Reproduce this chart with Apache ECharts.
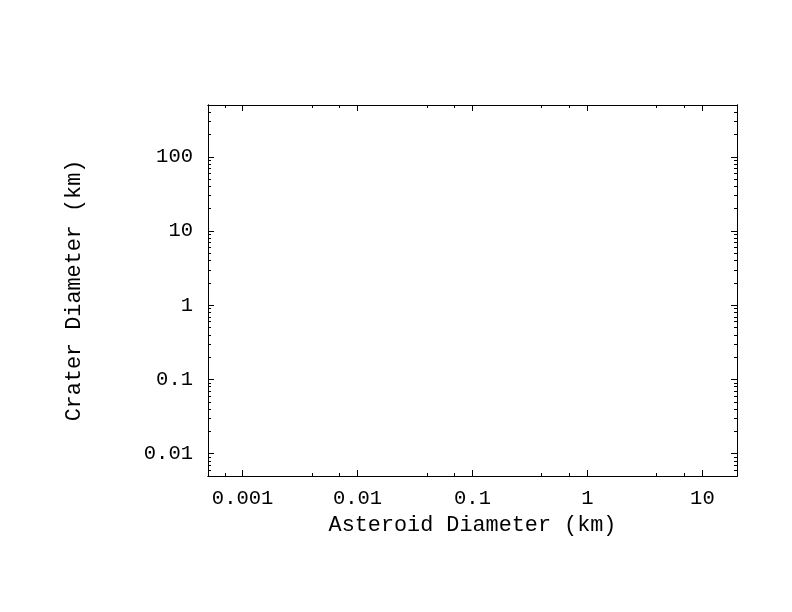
<!DOCTYPE html>
<html>
<head>
<meta charset="utf-8">
<script src="https://cdn.jsdelivr.net/npm/echarts@6/dist/echarts.min.js"></script>
<style>
html,body{margin:0;padding:0;background:#fff;}
#chart{width:792px;height:612px;}
</style>
</head>
<body>
<div id="chart"></div>
<script>
// Axis ranges (real units, km)
const xRange = [0.0005, 20];
const yRange = [0.005, 500];
// Major ticks with labels
const xMajor = [0.001, 0.01, 0.1, 1, 10];
const xLabels = ['0.001', '0.01', '0.1', '1', '10'];
const yMajor = [0.01, 0.1, 1, 10, 100];
const yLabels = ['0.01', '0.1', '1', '10', '100'];
// Minor ticks
const xMinor = [0.0007, 0.004, 0.007, 0.04, 0.07, 0.4, 0.7, 4, 7];
const yMinor = [0.006, 0.007, 0.008, 0.009,
  0.02, 0.03, 0.04, 0.05, 0.06, 0.07, 0.08, 0.09,
  0.2, 0.3, 0.4, 0.5, 0.6, 0.7, 0.8, 0.9,
  2, 3, 4, 5, 6, 7, 8, 9,
  20, 30, 40, 50, 60, 70, 80, 90,
  200, 300, 400];
const xTitle = 'Asteroid Diameter (km)';
const yTitle = 'Crater Diameter (km)';

const lg = v => Math.log10(v);
const FONT = 'Liberation Mono';
const labelMap = (vals, labs) => {
  const m = {};
  vals.forEach((v, i) => { m[lg(v).toFixed(6)] = labs[i]; });
  return v => m[Number(v).toFixed(6)] || '';
};

function makeAxis(kind, pos, ticks, len, opts) {
  const range = kind === 'x' ? xRange : yRange;
  return Object.assign({
    type: 'value',
    position: pos,
    min: lg(range[0]),
    max: lg(range[1]),
    splitLine: { show: false },
    axisLine: { show: true, onZero: false, lineStyle: { color: '#000', width: 1 } },
    axisTick: { show: true, inside: true, length: len, customValues: ticks.map(lg), lineStyle: { color: '#000', width: 1 } },
    axisLabel: { show: false },
    axisPointer: { show: false }
  }, opts || {});
}

const chart = echarts.init(document.getElementById('chart'), null, { renderer: 'canvas' });
const option = {
  backgroundColor: '#fff',
  animation: false,
  grid: { left: 208, top: 105, right: 55, bottom: 136, containLabel: false },
  xAxis: [
    makeAxis('x', 'bottom', xMajor, 6, {
      axisLabel: {
        show: true, customValues: xMajor.map(lg), formatter: labelMap(xMajor, xLabels),
        color: '#000', fontFamily: FONT, fontSize: 20.5, lineHeight: 14, margin: 16
      },
      name: xTitle, nameLocation: 'middle', nameGap: 31,
      nameTextStyle: { color: '#000', fontFamily: FONT, fontSize: 21.8 }
    }),
    makeAxis('x', 'bottom', xMinor, 3),
    makeAxis('x', 'top', xMajor, 6),
    makeAxis('x', 'top', xMinor, 3)
  ],
  yAxis: [
    makeAxis('y', 'left', yMajor, 6, {
      axisLabel: {
        show: true, customValues: yMajor.map(lg), formatter: labelMap(yMajor, yLabels),
        color: '#000', fontFamily: FONT, fontSize: 20.5, margin: 15
      },
      name: yTitle, nameLocation: 'middle', nameGap: 123, nameRotate: 90,
      nameTextStyle: { color: '#000', fontFamily: FONT, fontSize: 21.8 }
    }),
    makeAxis('y', 'left', yMinor, 3),
    makeAxis('y', 'right', yMajor, 6),
    makeAxis('y', 'right', yMinor, 3)
  ],
  series: [{ type: 'scatter', xAxisIndex: 0, yAxisIndex: 0, data: [] }]
};
chart.setOption(option);
</script>
</body>
</html>
